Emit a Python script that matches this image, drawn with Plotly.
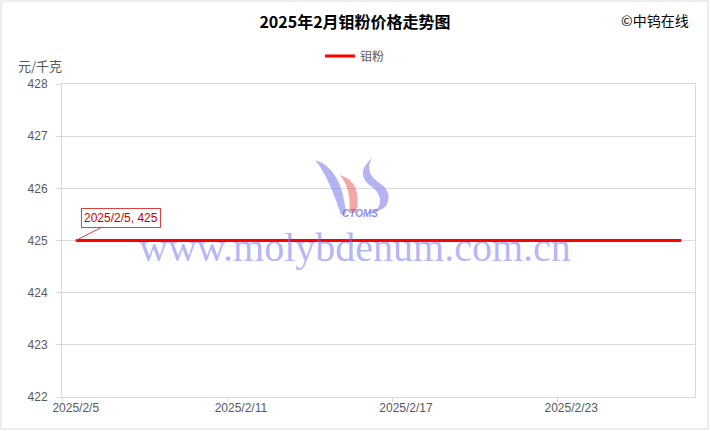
import pandas as pd
import plotly.graph_objects as go

# Feb 2025 molybdenum powder price, yuan/kg (trading days)
dates = ["2025-02-05", "2025-02-06", "2025-02-07", "2025-02-10", "2025-02-11",
         "2025-02-12", "2025-02-13", "2025-02-14", "2025-02-17", "2025-02-18",
         "2025-02-19", "2025-02-20", "2025-02-21", "2025-02-24", "2025-02-25",
         "2025-02-26", "2025-02-27"]
prices = [425, 425, 425, 425, 425, 425, 425, 425, 425, 425,
          425, 425, 425, 425, 425, 425, 425]
tick_dates = ["2025-02-05", "2025-02-11", "2025-02-17", "2025-02-23"]
tick_labels = ["2025/2/5", "2025/2/11", "2025/2/17", "2025/2/23"]
series_name = "钼粉"

W, H = 710, 431
L, R, T, B = 62, 15, 84, 34
PW, PH = W - L - R, H - T - B

cjk = "Noto Sans CJK SC"
grey = "#595959"


def px(x, y):
    # pixel position -> paper coords
    return (x - L) / PW, (H - B - y) / PH


def path(pts):
    out = []
    for cmd, *xy in pts:
        s = cmd
        for i in range(0, len(xy), 2):
            a, b = px(xy[i], xy[i + 1])
            s += f" {a:.4f},{b:.4f}"
        out.append(s)
    return " ".join(out) + " Z"


half = pd.Timedelta(hours=12)
start = pd.Timestamp(dates[0]) - half

fig = go.Figure()
fig.add_trace(go.Scatter(x=pd.to_datetime(dates), y=prices, mode="lines",
                         name=series_name,
                         line=dict(color="#ff0000", width=3)))

# faint CTOMS logo (watermark)
blue = "rgba(130,130,235,0.6)"
pink = "rgba(240,120,120,0.65)"
shapes = [
    dict(type="path", xref="paper", yref="paper", line_width=0, fillcolor=blue,
         path=path([("M", 315, 160), ("Q", 328, 175, 341, 215), ("L", 346, 214),
                    ("Q", 342, 168, 315, 160)])),
    dict(type="path", xref="paper", yref="paper", line_width=0, fillcolor=pink,
         path=path([("M", 340, 175), ("Q", 363, 182, 356, 213), ("L", 349, 213),
                    ("Q", 352, 190, 340, 175)])),
    dict(type="path", xref="paper", yref="paper", line_width=0, fillcolor=blue,
         path=path([("M", 372, 158), ("Q", 356, 172, 368, 184), ("Q", 385, 195, 378, 208),
                    ("Q", 370, 214, 357, 215), ("Q", 378, 214, 386, 206),
                    ("Q", 394, 192, 378, 182), ("Q", 364, 172, 372, 158)])),
    # outer chart border
    dict(type="rect", xref="paper", yref="paper",
         x0=px(1, 0)[0], x1=px(708, 0)[0], y0=px(0, 429)[1], y1=px(0, 1)[1],
         line=dict(color="#d9d9d9", width=1)),
]

annotations = [
    dict(text="<b><i>CTOMS</i></b>", x=px(360, 0)[0], y=px(0, 213)[1],
         xref="paper", yref="paper", xanchor="center", yanchor="middle",
         showarrow=False, font=dict(family="Liberation Sans", size=10,
                                    color="rgba(100,110,230,0.75)")),
    dict(text="www.molybdenum.com.cn", x=px(355, 0)[0], y=px(0, 248)[1],
         xref="paper", yref="paper", xanchor="center", yanchor="middle",
         showarrow=False,
         font=dict(family="Liberation Serif", size=40, color="rgba(110,110,235,0.5)")),
    dict(text="2025/2/5, 425", x=pd.Timestamp(dates[0]), y=prices[0],
         xref="x", yref="y", showarrow=True, arrowhead=0, arrowwidth=1,
         arrowcolor="#e04040", ax=45, ay=-23,
         font=dict(family="Liberation Sans", size=12, color="#c00000"),
         bgcolor="white", bordercolor="#e04040", borderwidth=1, borderpad=2),
    dict(text="元/千克", x=px(40, 0)[0], y=px(0, 66)[1], xref="paper", yref="paper",
         xanchor="center", yanchor="middle",
         showarrow=False, font=dict(family=cjk, size=13, color=grey)),
    dict(text="©中钨在线", x=px(655, 0)[0], y=px(0, 20)[1], xref="paper", yref="paper",
         xanchor="center", yanchor="middle",
         showarrow=False, font=dict(family=cjk, size=14, color="black")),
]

fig.update_layout(
    width=W, height=H,
    margin=dict(l=L, r=R, t=T, b=B),
    paper_bgcolor="white", plot_bgcolor="white",
    title=dict(text="<b>2025年2月钼粉价格走势图</b>", x=0.5, y=1 - 22 / H,
               xanchor="center", yanchor="middle",
               font=dict(family=cjk, size=16, color="black")),
    showlegend=True,
    legend=dict(orientation="h", x=px(355, 0)[0], y=px(0, 56)[1],
                xanchor="center", yanchor="middle",
                font=dict(family=cjk, size=12, color=grey)),
    shapes=shapes,
    annotations=annotations,
)

# labels sit at the day centre, tick marks on day boundaries (Excel date axis)
fig.update_xaxes(range=[start, pd.Timestamp("2025-02-28") - half],
                 tickvals=pd.to_datetime(tick_dates), ticktext=tick_labels, ticks="",
                 minor=dict(tick0=start, dtick=6 * 86400000, ticks="outside",
                            ticklen=4, tickcolor="#d9d9d9", showgrid=False),
                 showgrid=False, showline=True, linecolor="#d9d9d9", mirror=True,
                 tickfont=dict(family="Liberation Sans", size=12, color=grey))
fig.update_yaxes(range=[422, 428], dtick=1, showgrid=True, gridcolor="#d9d9d9",
                 showline=True, linecolor="#d9d9d9", mirror=True,
                 ticks="outside", ticklen=5, tickcolor="#d9d9d9", zeroline=False,
                 ticklabelstandoff=6,
                 tickfont=dict(family="Liberation Sans", size=12, color=grey))

fig.write_html("out.html", config={"displayModeBar": False},
               post_script="document.body.style.margin='0';")
